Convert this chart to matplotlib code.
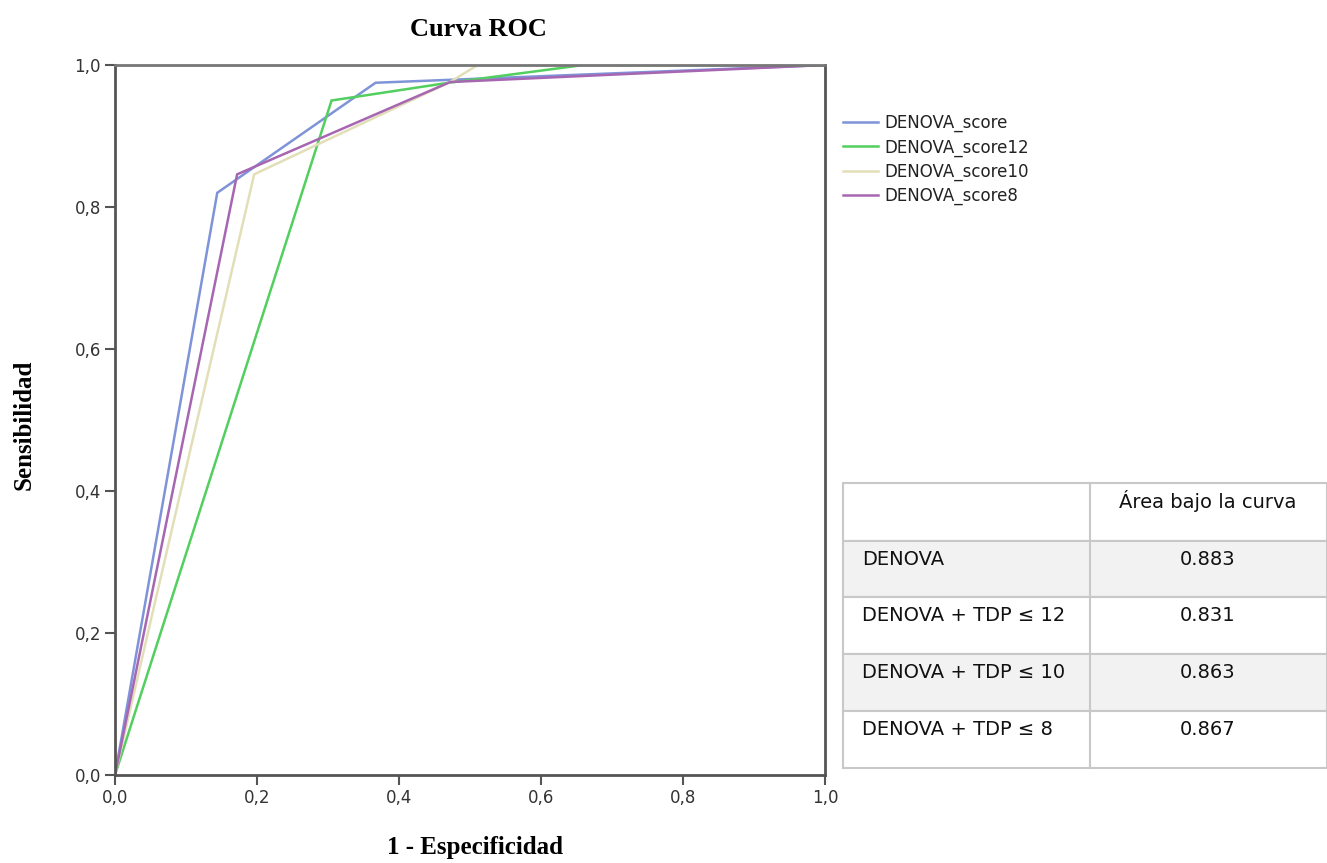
import matplotlib
matplotlib.use("Agg")
import matplotlib.pyplot as plt
from matplotlib.patches import Rectangle
from matplotlib.ticker import FuncFormatter

# ---- data ----
fpr_score = [0.0, 0.144, 0.367, 1.0]
tpr_score = [0.0, 0.820, 0.975, 1.0]
fpr_score12 = [0.0, 0.305, 0.47, 0.66, 1.0]
tpr_score12 = [0.0, 0.950, 0.975, 1.0, 1.0]
fpr_score10 = [0.0, 0.196, 0.47, 0.511, 1.0]
tpr_score10 = [0.0, 0.846, 0.975, 1.0, 1.0]
fpr_score8 = [0.0, 0.172, 0.472, 1.0]
tpr_score8 = [0.0, 0.846, 0.976, 1.0]
series_names = ["DENOVA_score", "DENOVA_score12", "DENOVA_score10", "DENOVA_score8"]
series_colors = ["#7f93d8", "#52cf5e", "#e2dfb8", "#a766b2"]

ticks = [0.0, 0.2, 0.4, 0.6, 0.8, 1.0]

table_header = ["", "Área bajo la curva"]
table_models = ["DENOVA", "DENOVA + TDP ≤ 12", "DENOVA + TDP ≤ 10", "DENOVA + TDP ≤ 8"]
table_auc = ["0.883", "0.831", "0.863", "0.867"]
row_fills = ["#ffffff", "#f2f2f2", "#ffffff", "#f2f2f2", "#ffffff"]

W, H = 1327, 863
fig = plt.figure(figsize=(W / 100, H / 100), dpi=100)
fig.patch.set_facecolor("white")

ax = fig.add_axes([115 / W, (H - 775) / H, 710 / W, 710 / H])
xs = [fpr_score, fpr_score12, fpr_score10, fpr_score8]
ys = [tpr_score, tpr_score12, tpr_score10, tpr_score8]
for x, y, n, c in zip(xs, ys, series_names, series_colors):
    ax.plot(x, y, color=c, lw=1.8, label=n, solid_joinstyle="miter")
ax.set_xlim(0, 1)
ax.set_ylim(0, 1)
ax.set_xticks(ticks)
ax.set_yticks(ticks)
fmt = FuncFormatter(lambda v, p: f"{v:.1f}".replace(".", ","))
ax.xaxis.set_major_formatter(fmt)
ax.yaxis.set_major_formatter(fmt)
for s in ax.spines.values():
    s.set_color("#555555")
    s.set_linewidth(2)
ax.spines["top"].set_color("#777777")
ax.tick_params(direction="out", length=7, width=1.5, color="#555555",
               labelsize=12, labelcolor="#333333", pad=3)
for lab in ax.get_xticklabels() + ax.get_yticklabels():
    lab.set_family("DejaVu Sans")

fig.text(478 / W, 1 - 30 / H, "Curva ROC", family="Liberation Serif",
         fontweight="bold", fontsize=19, ha="center", va="center")
fig.text(475 / W, 1 - 847 / H, "1 - Especificidad", family="Liberation Serif",
         fontweight="bold", fontsize=18, ha="center", va="center")
fig.text(24 / W, 1 - 425 / H, "Sensibilidad", family="Liberation Serif",
         fontweight="bold", fontsize=18, ha="center", va="center", rotation=90)

leg = fig.legend(loc="upper left", bbox_to_anchor=(843 / W, 1 - 114 / H),
                 frameon=False, fontsize=12, handlelength=2.1,
                 handletextpad=0.4, labelspacing=0.36, borderpad=0,
                 borderaxespad=0)
for t in leg.get_texts():
    t.set_color("#222222")

# ---- table ----
tx0, tx1, col_split = 843, 1327, 1090
row_edges = [483, 541, 597, 654, 711, 768]
tab = fig.add_axes([0, 0, 1, 1], facecolor="none")
tab.set_xlim(0, W)
tab.set_ylim(H, 0)
tab.axis("off")
rows = [table_header] + [[m, a] for m, a in zip(table_models, table_auc)]
for i, row in enumerate(rows):
    y0, y1 = row_edges[i], row_edges[i + 1]
    tab.add_patch(Rectangle((tx0, y0), tx1 - tx0, y1 - y0, facecolor=row_fills[i],
                            edgecolor="#c8c8c8", lw=1.5))
    tab.plot([col_split, col_split], [y0, y1], color="#c8c8c8", lw=1.5)
    if row[0]:
        tab.text(862, y0 + 18, row[0], fontsize=14, ha="left", va="center",
                 color="#111111", family="DejaVu Sans")
    tab.text(1208, y0 + 18, row[1], fontsize=14, ha="center", va="center",
             color="#111111", family="DejaVu Sans")

fig.savefig("out.png", dpi=100, facecolor="white")
